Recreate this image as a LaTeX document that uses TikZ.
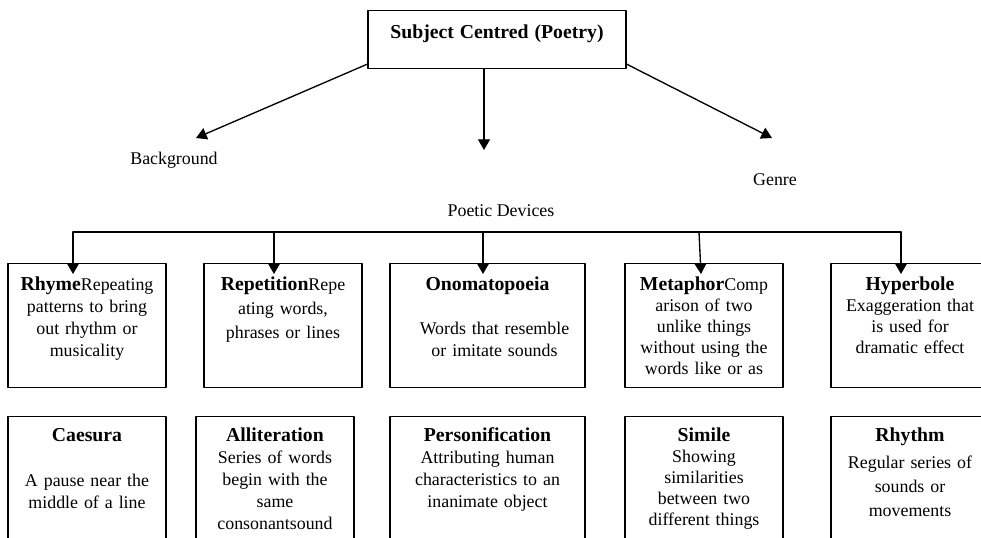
\documentclass[tikz,border=0pt]{standalone}
\usepackage{fontspec}
\setmainfont{Liberation Serif}
\usetikzlibrary{arrows.meta}
\newcommand\term[1]{{\fontsize{14.8}{16.5}\selectfont\bfseries #1}}
\begin{document}
\begin{tikzpicture}[x=0.75pt, y=-0.75pt, font=\fontsize{13.4}{16.5}\selectfont, line join=round, line cap=round,
  >={Triangle[length=8pt,width=9pt]},
  card/.style={draw, line width=0.8pt, inner xsep=0pt, inner ysep=0pt, anchor=north, align=center,
    text width=118.5pt, text height=20.25pt, text depth=72.75pt},
  wide/.style={text width=146.25pt},
  low/.style={text height=18.75pt, text depth=90pt},
  link/.style={->, line width=1pt}]
	\clip (0,0) rectangle (981,538);
	\node[card, text width=193.5pt, text height=21pt, text depth=22.5pt] (subject) at (497,10) {\term{Subject Centred (Poetry)}};
	\node (background) at (174,160) {Background};
	\node (genre) at (775,180) {Genre};
	\node (devices) at (501,211) {Poetic Devices};
	\coordinate (bgtip) at (196,138);
	\coordinate (genretip) at (772,138);
	\coordinate (devtip) at (484,150);
	\draw[link] ([yshift=3.75pt]subject.south west) -- (bgtip);
	\draw[link] ([yshift=3.75pt]subject.south east) -- (genretip);
	\draw[link] (subject.south -| devtip) -- (devtip);
	% first row of devices
	\node[card] (rhyme) at (87,263) {\term{Rhyme}Repeating\\patterns to bring\\out rhythm or\\musicality};
	\node[card] (repetition) at (283,263) {\term{Repetition}Repe\\[1.5pt]ating words,\\[1.5pt]phrases or lines};
	\node[card, wide] (onomatopoeia) at (487.5,263) {\term{Onomatopoeia}\\[16.5pt]\hspace*{10.5pt}Words that resemble\hfill\\\hspace*{10.5pt}or imitate sounds\hfill};
	\node[card] (metaphor) at (704,263) {\term{Metaphor}Comp\\[-0.75pt]arison of two\\[-0.75pt]unlike things\\[-0.75pt]without using the\\[-0.75pt]words like or as};
	\node[card] (hyperbole) at (910,263) {\term{Hyperbole}\\[-0.75pt]Exaggeration that\\[-0.75pt]is used for\\[-0.75pt]dramatic effect};
	% second row
	\node[card, low] (caesura) at (87,416) {\term{Caesura}\\[17pt]A pause near the\\middle of a line};
	\node[card, low] (alliteration) at (275,416) {\term{Alliteration}\\Series of words\\begin with the\\same\\consonantsound};
	\node[card, low, wide] (personification) at (487.5,416) {\term{Personification}\\Attributing human\\characteristics to an\\inanimate object};
	\node[card, low] (simile) at (704,416) {\term{Simile}\\[-0.75pt]Showing\\[-0.75pt]similarities\\[-0.75pt]between two\\[-0.75pt]different things};
	\node[card, low] (rhythm) at (910,416) {\term{Rhythm}\\[3.75pt]Regular series of\\[1.5pt]sounds or\\[1.5pt]movements};
	% bus to the devices
	\foreach \name/\x in {b1/73, b2/274, b3/483, b4/699, b5/901}
		\coordinate (\name) at (\x,232);
	\draw[line width=1pt] (b1) -- (b5);
	\draw[link] (b1) -- ([yshift=-8.25pt]b1 |- rhyme.north);
	\draw[link] (b2) -- ([yshift=-8.25pt]b2 |- repetition.north);
	\draw[link] (b3) -- ([yshift=-8.25pt]b3 |- onomatopoeia.north);
	\draw[link] (b4) -- ([xshift=1.5pt, yshift=-8.25pt]b4 |- metaphor.north);
	\draw[link] (b5) -- ([yshift=-8.25pt]b5 |- hyperbole.north);
\end{tikzpicture}
\end{document}
